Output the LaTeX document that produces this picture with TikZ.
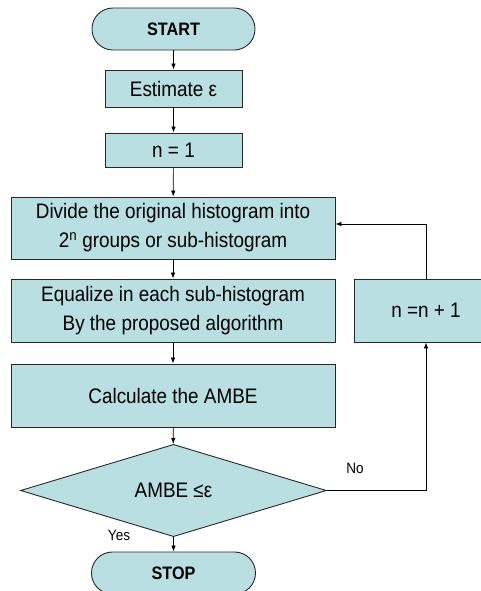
\documentclass[tikz,border=0pt]{standalone}
\usepackage{fontspec}
\setmainfont{Liberation Sans}[FakeStretch=0.9]
\usetikzlibrary{shapes.geometric,arrows.meta}
\definecolor{boxfill}{RGB}{185,223,227}
\definecolor{edgecol}{RGB}{40,40,40}
\begin{document}
\begin{tikzpicture}[x=1pt,y=-1pt,
  proc/.style={rectangle, draw=edgecol, line width=0.9pt, fill=boxfill, inner sep=0pt,
    align=center, font=\fontsize{21}{29}\selectfont},
  term/.style={rectangle, rounded corners=20.9pt, draw=edgecol, line width=0.9pt, fill=boxfill,
    inner sep=0pt, minimum width=163pt, minimum height=42pt, font=\fontsize{18}{20}\selectfont\bfseries},
  dec/.style={diamond, draw=edgecol, line width=0.9pt, fill=boxfill, inner sep=0pt,
    minimum width=306pt, minimum height=83pt, font=\fontsize{21}{24}\selectfont},
  flow/.style={draw=black, line width=0.7pt, -{Latex[length=6pt,width=4.5pt]}},
  lbl/.style={inner sep=0pt, font=\fontsize{15}{17}\selectfont}]
\useasboundingbox (0,0) rectangle (481,591);
\node[term] (start) at (173.5,29) {START};
\node[proc, minimum width=137pt, minimum height=37pt] (est) at (173.5,88.5) {Estimate ε};
\node[proc, minimum width=137pt, minimum height=34pt] (n1) at (173.5,150) {n = 1};
\node[proc, minimum width=324pt, minimum height=62pt] (div) at (173,228)
  {Divide the original histogram into\\2\textsuperscript{n} groups or sub-histogram};
\node[proc, minimum width=324pt, minimum height=63pt] (equ) at (173,310.5)
  {Equalize in each sub-histogram\\By the proposed algorithm};
\node[proc, minimum width=324pt, minimum height=63pt] (calc) at (173,395.5)
  {Calculate the AMBE};
\node[dec] (dec) at (173.5,490.5) {AMBE ≤ε};
\node[term, minimum width=164pt] (stop) at (173.5,573) {STOP};
\node[proc, minimum width=144pt, minimum height=63pt] (incr) at (426,310.5) {n =n + 1};
\node[lbl] (no) at (355,468) {No};
\node[lbl] (yes) at (119,535) {Yes};
\draw[flow] (start) -- (est);
\draw[flow] (est) -- (n1);
\draw[flow] (n1) -- (div);
\draw[flow] (div) -- (equ);
\draw[flow] (equ) -- (calc);
\draw[flow] (calc) -- (dec);
\draw[flow] (dec) -- (stop);
\draw[flow] (dec.east) -| (incr.south);
\draw[flow] (incr.north) |- ([yshift=4pt]div.east);
\end{tikzpicture}
\end{document}
